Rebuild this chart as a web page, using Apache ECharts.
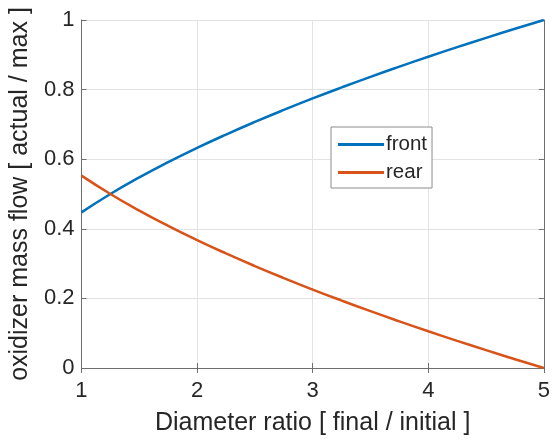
<!DOCTYPE html>
<html>
<head>
<meta charset="utf-8">
<script src="https://cdn.jsdelivr.net/npm/echarts@6/dist/echarts.min.js"></script>
<style>
  html, body { margin: 0; padding: 0; background: #fff; }
  #chart { width: 553px; height: 441px; }
</style>
</head>
<body>
<div id="chart"></div>
<script>
// Diameter ratio samples (final / initial)
const diameterRatio = [1, 1.25, 1.5, 1.75, 2, 2.25, 2.5, 2.75, 3, 3.25, 3.5, 3.75, 4, 4.25, 4.5, 4.75, 5];
// Oxidizer mass flow fraction through the front port
const frontFlow = [0.4472, 0.5, 0.5477, 0.5916, 0.6325, 0.6708, 0.7071, 0.7416, 0.7746, 0.8062, 0.8367, 0.8660, 0.8944, 0.9220, 0.9487, 0.9747, 1.0];
// Oxidizer mass flow fraction through the rear port
const rearFlow = [0.5528, 0.5, 0.4523, 0.4084, 0.3675, 0.3292, 0.2929, 0.2584, 0.2254, 0.1938, 0.1633, 0.1340, 0.1056, 0.0780, 0.0513, 0.0253, 0.0];
const seriesNames = ['front', 'rear'];
const xTicks = [1, 2, 3, 4, 5];
const yTicks = [0, 0.2, 0.4, 0.6, 0.8, 1];

const font = 'Liberation Sans, Arial, Helvetica, sans-serif';
const axisColor = '#6e6e6e';
const textColor = '#262626';
const gridColor = '#e3e3e3';

const pair = (xs, ys) => xs.map((x, i) => [x, ys[i]]);

const baseAxis = {
  type: 'value',
  axisLine: { show: true, lineStyle: { color: axisColor, width: 1 } },
  axisTick: { show: true, inside: true, length: 5, lineStyle: { color: axisColor } },
  splitLine: { show: false },
  axisLabel: { show: false }
};

const chart = echarts.init(document.getElementById('chart'), null, { renderer: 'canvas' });
chart.setOption({
  animation: false,
  backgroundColor: '#ffffff',
  grid: { left: 79, right: 6, top: 20, bottom: 70, containLabel: false },
  legend: {
    data: seriesNames,
    orient: 'vertical',
    left: 331,
    top: 127,
    icon: 'rect',
    itemWidth: 46,
    itemHeight: 3,
    itemGap: 7,
    padding: [7, 5, 5, 7],
    borderColor: '#8c8c8c',
    borderWidth: 1,
    borderRadius: 0,
    backgroundColor: '#ffffff',
    textStyle: { fontFamily: font, fontSize: 20.5, lineHeight: 21, color: textColor, padding: [0, 0, 0, -3] }
  },
  xAxis: [
    Object.assign({}, baseAxis, {
      min: 1, max: 5, interval: 1,
      position: 'bottom',
      name: 'Diameter ratio [ final / initial ]',
      nameLocation: 'middle',
      nameGap: 43,
      nameTextStyle: { fontFamily: font, fontSize: 25, color: textColor },
      splitLine: { show: true, lineStyle: { color: gridColor, width: 1 } },
      axisLabel: {
        show: true, margin: 12, fontFamily: font, fontSize: 22, color: textColor,
        formatter: v => (xTicks.indexOf(v) >= 0 ? String(v) : '')
      }
    }),
    Object.assign({}, baseAxis, { min: 1, max: 5, interval: 1, position: 'top' })
  ],
  yAxis: [
    Object.assign({}, baseAxis, {
      min: 0, max: 1, interval: 0.2,
      position: 'left',
      name: 'oxidizer mass flow [ actual / max ]',
      nameLocation: 'middle',
      nameGap: 43,
      nameTextStyle: { fontFamily: font, fontSize: 25, color: textColor },
      splitLine: { show: true, lineStyle: { color: gridColor, width: 1 } },
      axisLabel: {
        show: true, margin: 7, fontFamily: font, fontSize: 22, color: textColor,
        formatter: v => {
          const t = yTicks.find(y => Math.abs(y - v) < 1e-9);
          return t === undefined ? '' : String(t);
        }
      }
    }),
    Object.assign({}, baseAxis, { min: 0, max: 1, interval: 0.2, position: 'right' })
  ],
  series: [
    {
      name: seriesNames[0], type: 'line', smooth: true, symbol: 'none',
      xAxisIndex: 0, yAxisIndex: 0,
      data: pair(diameterRatio, frontFlow),
      lineStyle: { color: '#0072BD', width: 2.5 },
      itemStyle: { color: '#0072BD' }
    },
    {
      name: seriesNames[1], type: 'line', smooth: true, symbol: 'none',
      xAxisIndex: 0, yAxisIndex: 0,
      data: pair(diameterRatio, rearFlow),
      lineStyle: { color: '#D95319', width: 2.5 },
      itemStyle: { color: '#D95319' }
    }
  ]
});
</script>
</body>
</html>
